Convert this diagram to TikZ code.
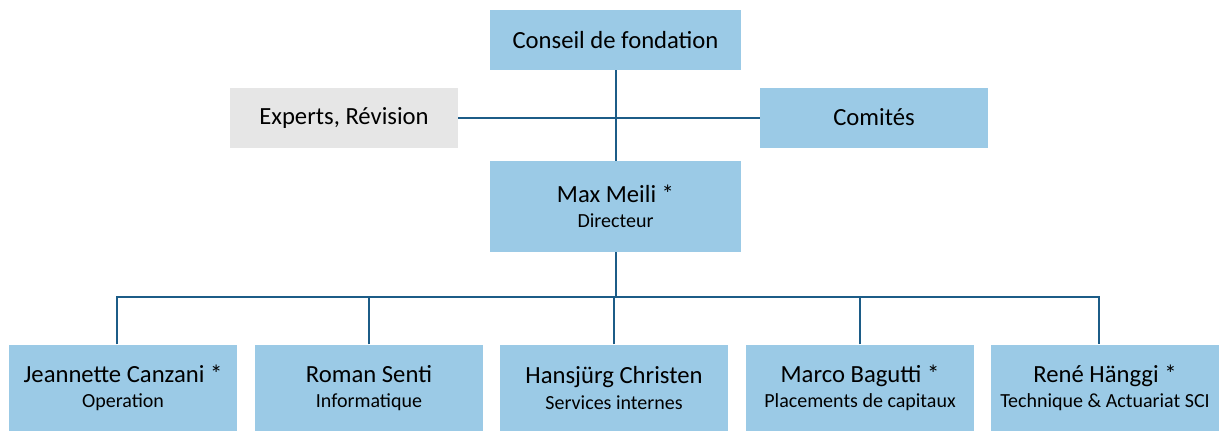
\documentclass[tikz,border=0pt]{standalone}
\usepackage{fontspec}
\setmainfont{Carlito}
\usepackage{tikz}
\definecolor{boxblue}{RGB}{155,202,230}
\definecolor{boxgray}{RGB}{230,230,230}
\definecolor{linkblue}{RGB}{28,92,135}
\tikzset{
  orgbox/.style={fill=boxblue, minimum width=171pt, minimum height=45pt, align=center, inner sep=0pt, font=\fontsize{18.5}{20}\selectfont},
  staffbox/.style={orgbox, minimum width=171pt, minimum height=65pt},
  link/.style={draw=linkblue, line width=1.5pt}
}
\newcommand{\rolename}[2]{#1\\[-1pt]{\fontsize{15}{17}\selectfont #2}}

\begin{document}
\begin{tikzpicture}[x=0.75pt,y=0.75pt,yscale=-1,xscale=1]
\useasboundingbox (0,0) rectangle (1219,430);

% Text Node
\node (conseil) [orgbox, minimum width=188pt] at (615.5,40) {Conseil de fondation};
% Text Node
\node (experts) [orgbox, fill=boxgray] at (344,117.5) {Experts, Révision};
% Text Node
\node (comites) [orgbox] at (874,117.5) {Comités};
% Text Node
\node (meili) [staffbox, minimum width=188pt, minimum height=68pt] at (615.5,206.5) {\rolename{Max Meili *}{Directeur}};

% Text Node
\node (canzani) [staffbox] at (123,388) {\rolename{Jeannette Canzani *}{Operation}};
% Text Node
\node (senti) [staffbox] at (369,388) {\rolename{Roman Senti}{Informatique}};
% Text Node
\node (christen) [staffbox] at (614,388) {\rolename{Hansjürg Christen}{Services internes}};
% Text Node
\node (bagutti) [staffbox] at (860,388) {\rolename{Marco Bagutti *}{Placements de capitaux}};
% Text Node
\node (haenggi) [staffbox] at (1105,388) {\rolename{René Hänggi *}{Technique \& Actuariat SCI}};

%Straight Lines
\draw [link] (conseil.south) -- (meili.north) ;
\draw [link] (experts.east) -- (comites.west) ;

%Straight Lines (bus)
\coordinate (busL) at (117,297) ;
\coordinate (busR) at (1099,297) ;
\draw [link] (meili.south) -- (meili.south |- busL) ;
\draw [link] (busL |- canzani.north) -- (busL) -- (busR) -- (busR |- haenggi.north) ;
\draw [link] (senti.north) -- (senti.north |- busL) ;
\draw [link] (christen.north) -- (christen.north |- busL) ;
\draw [link] (bagutti.north) -- (bagutti.north |- busL) ;
\end{tikzpicture}
\end{document}
